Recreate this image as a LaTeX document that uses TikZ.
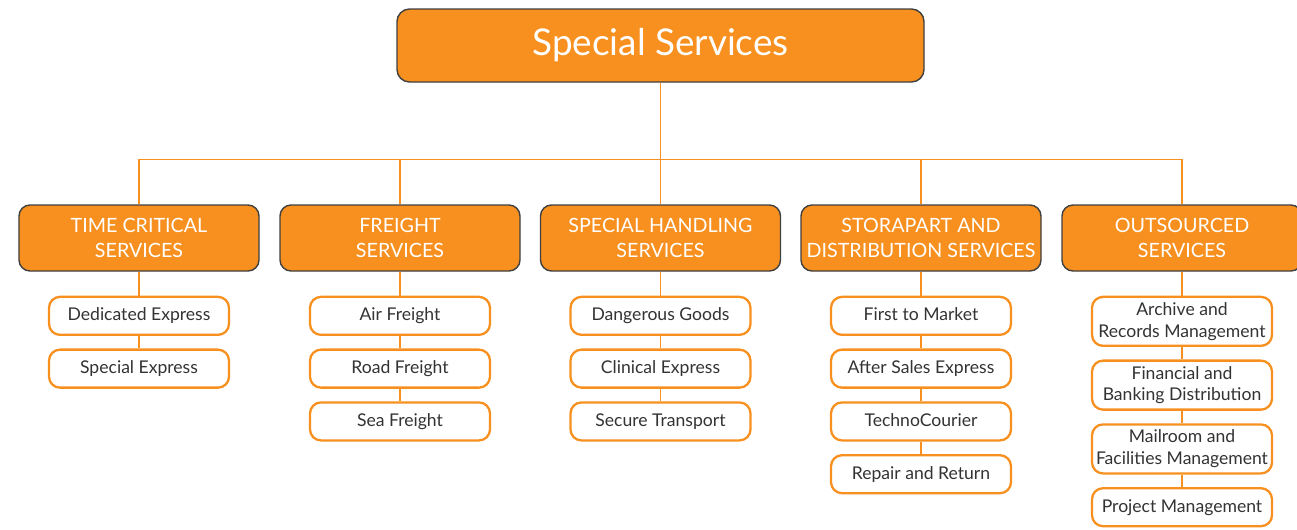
\documentclass[tikz,border=0pt]{standalone}
\usepackage{fontspec}
\setmainfont{Lato}
\usetikzlibrary{positioning}
\definecolor{svcorange}{HTML}{F7901E}
\definecolor{svctext}{HTML}{333333}
\tikzset{
    link/.style={draw=svcorange, line width=0.8pt}, % connector lines
    root/.style={rectangle, rounded corners=0.25cm, draw=black!75, line width=0.8pt, fill=svcorange,
        text=white, minimum width=10.54cm, minimum height=1.46cm, font=\fontsize{21}{24}\selectfont},
    group/.style={rectangle, rounded corners=0.22cm, draw=black!75, line width=0.8pt, fill=svcorange,
        text=white, align=center, minimum width=4.8cm, minimum height=1.32cm, inner sep=1pt,
        font=\fontsize{11.2}{14.5}\selectfont},
    leaf/.style={rectangle, rounded corners=0.22cm, draw=svcorange, line width=1.3pt, fill=white,
        text=svctext, align=center, minimum width=3.6cm, minimum height=0.76cm, inner sep=2pt,
        text height=1.6ex, text depth=0.45ex, font=\fontsize{10}{12.4}\selectfont},
    tallleaf/.style={leaf, text height=, text depth=, minimum height=0.98cm}, % two-line leaves
    node distance=0.25cm, % gap between two leaves
}
\begin{document}
\begin{tikzpicture}
    \useasboundingbox (0,0) rectangle (25.94,-10.58);

    \node[root] (top) at (13.21,-0.91) {Special Services};

    \node[group] (g1) at (2.78,-4.76) {TIME CRITICAL\\SERVICES};
    \node[group] (g2) at (8.00,-4.76) {FREIGHT\\SERVICES};
    \node[group] (g3) at (13.21,-4.76) {SPECIAL HANDLING\\SERVICES};
    \node[group] (g4) at (18.42,-4.76) {STORAPART AND\\DISTRIBUTION SERVICES};
    \node[group] (g5) at (23.64,-4.76) {OUTSOURCED\\SERVICES};

    % leaves
    \node[leaf, below=0.48cm of g1] (l11) {Dedicated Express};
    \node[leaf, below=of l11] (l12) {Special Express};

    \node[leaf, below=0.48cm of g2] (l21) {Air Freight};
    \node[leaf, below=of l21] (l22) {Road Freight};
    \node[leaf, below=of l22] (l23) {Sea Freight};

    \node[leaf, below=0.48cm of g3] (l31) {Dangerous Goods};
    \node[leaf, below=of l31] (l32) {Clinical Express};
    \node[leaf, below=of l32] (l33) {Secure Transport};

    \node[leaf, below=0.48cm of g4] (l41) {First to Market};
    \node[leaf, below=of l41] (l42) {After Sales Express};
    \node[leaf, below=of l42] (l43) {TechnoCourier};
    \node[leaf, below=of l43] (l44) {Repair and Return};

    \node[tallleaf, below=0.48cm of g5] (l51) {Archive and\\Records Management};
    \node[tallleaf, below=of l51] (l52) {Financial and\\Banking Distribution};
    \node[tallleaf, below=of l52] (l53) {Mailroom and\\Facilities Management};
    \node[leaf, below=of l53] (l54) {Project Management};

    % connectors
    \foreach \g in {g1,g2,g3,g4,g5}
        \draw[link] (top.south) -- ++(0,-1.54) -| (\g.north);
    \draw[link] (g1) -- (l11) -- (l12);
    \draw[link] (g2) -- (l21) -- (l22) -- (l23);
    \draw[link] (g3) -- (l31) -- (l32) -- (l33);
    \draw[link] (g4) -- (l41) -- (l42) -- (l43) -- (l44);
    \draw[link] (g5) -- (l51) -- (l52) -- (l53) -- (l54);
\end{tikzpicture}
\end{document}
